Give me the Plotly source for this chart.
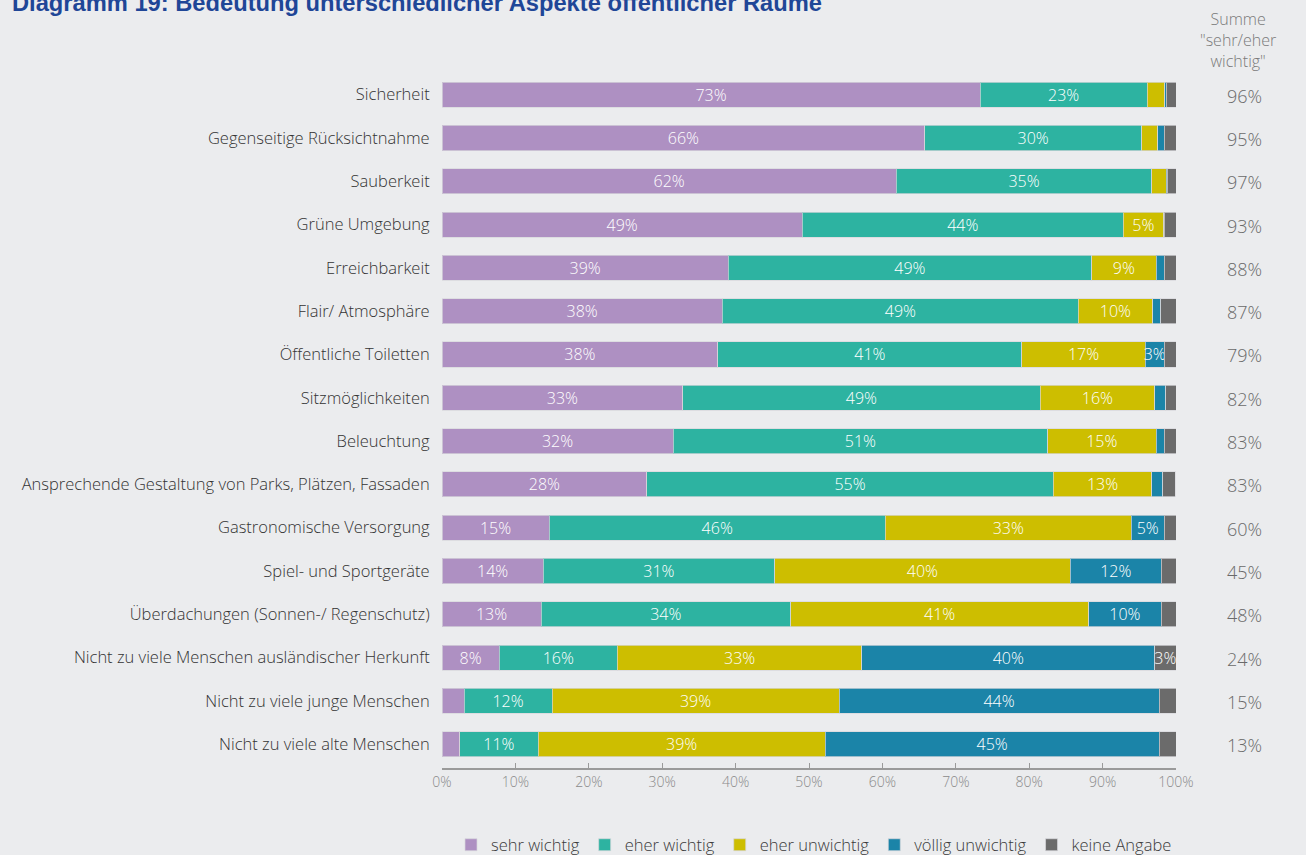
import plotly.graph_objects as go

categories = [
    "Sicherheit",
    "Gegenseitige Rücksichtnahme",
    "Sauberkeit",
    "Grüne Umgebung",
    "Erreichbarkeit",
    "Flair/ Atmosphäre",
    "Öffentliche Toiletten",
    "Sitzmöglichkeiten",
    "Beleuchtung",
    "Ansprechende Gestaltung von Parks, Plätzen, Fassaden",
    "Gastronomische Versorgung",
    "Spiel- und Sportgeräte",
    "Überdachungen (Sonnen-/ Regenschutz)",
    "Nicht zu viele Menschen ausländischer Herkunft",
    "Nicht zu viele junge Menschen",
    "Nicht zu viele alte Menschen",
]

sehr_wichtig = [73.3, 65.8, 61.9, 49.1, 39.0, 38.2, 37.6, 32.8, 31.5, 27.9, 14.6, 13.8, 13.5, 7.8, 3.0, 2.4]
eher_wichtig = [22.8, 29.5, 34.8, 43.7, 49.5, 48.5, 41.4, 48.7, 51.0, 55.4, 45.8, 31.5, 34.0, 16.1, 12.0, 10.7]
eher_unwichtig = [2.4, 2.2, 2.0, 5.5, 8.8, 10.1, 16.8, 15.6, 14.8, 13.4, 33.5, 40.3, 40.6, 33.3, 39.1, 39.1]
voellig_unwichtig = [0.2, 0.9, 0.1, 0.1, 1.1, 1.1, 2.6, 1.5, 1.1, 1.5, 4.5, 12.4, 9.9, 39.9, 43.6, 45.5]
keine_angabe = [1.3, 1.6, 1.2, 1.6, 1.6, 2.1, 1.6, 1.4, 1.6, 1.7, 1.6, 2.0, 2.0, 2.9, 2.3, 2.3]

# labels shown inside the segments ("" = not shown)
lbl_sehr = ["73%", "66%", "62%", "49%", "39%", "38%", "38%", "33%", "32%", "28%", "15%", "14%", "13%", "8%", "", ""]
lbl_eher = ["23%", "30%", "35%", "44%", "49%", "49%", "41%", "49%", "51%", "55%", "46%", "31%", "34%", "16%", "12%", "11%"]
lbl_eher_un = ["", "", "", "5%", "9%", "10%", "17%", "16%", "15%", "13%", "33%", "40%", "41%", "33%", "39%", "39%"]
lbl_voellig = ["", "", "", "", "", "", "3%", "", "", "", "5%", "12%", "10%", "40%", "44%", "45%"]
lbl_keine = ["", "", "", "", "", "", "", "", "", "", "", "", "", "3%", "", ""]

summe = ["96%", "95%", "97%", "93%", "88%", "87%", "79%", "82%", "83%", "83%", "60%", "45%", "48%", "24%", "15%", "13%"]

series = [
    ("sehr wichtig", sehr_wichtig, lbl_sehr, "#AE90C2"),
    ("eher wichtig", eher_wichtig, lbl_eher, "#2DB3A1"),
    ("eher unwichtig", eher_unwichtig, lbl_eher_un, "#CDBE00"),
    ("völlig unwichtig", voellig_unwichtig, lbl_voellig, "#1B84A8"),
    ("keine Angabe", keine_angabe, lbl_keine, "#6B6B6B"),
]

FONT = "Open Sans"
BG = "#EBECEE"
PLOT_T, PLOT_B = 73, 768
PLOT_L, PLOT_R = 442, 1176
PH = PLOT_B - PLOT_T
PW = PLOT_R - PLOT_L


def px_x(px):
    return (px - PLOT_L) / PW


def px_y(py):
    return (PLOT_B - py) / PH


fig = go.Figure()
for name, vals, lbls, col in series:
    fig.add_trace(go.Bar(
        name=name,
        y=categories,
        x=vals,
        orientation="h",
        marker=dict(color=col, line=dict(color="rgba(215,215,220,0.7)", width=1)),
        text=lbls,
        textposition="inside",
        insidetextanchor="middle",
        textangle=0,
        textfont=dict(family=FONT, size=16, color="white", weight=300),
        constraintext="none",
        cliponaxis=False,
        hoverinfo="x+name",
    ))

for cat, s in zip(categories, summe):
    fig.add_annotation(
        x=px_x(1244), xref="paper", y=cat, yref="y", yshift=-1,
        text=s, showarrow=False,
        font=dict(family=FONT, size=18, color="#6a6a6a", weight=300),
        xanchor="center", yanchor="middle",
    )
fig.add_annotation(
    x=px_x(1238), xref="paper", y=px_y(40), yref="paper", yanchor="middle",
    text="Summe<br>\"sehr/eher<br>wichtig\"", showarrow=False,
    font=dict(family=FONT, size=16, color="#7a7a7a", weight=300),
    xanchor="center", align="center",
)
fig.add_annotation(
    x=px_x(10), xref="paper", y=px_y(3), yref="paper",
    xanchor="left", yanchor="middle",
    text="<b>Diagramm 19: Bedeutung unterschiedlicher Aspekte öffentlicher Räume</b>",
    showarrow=False,
    font=dict(family="Liberation Sans", size=23.7, color="#1F4697"),
)

fig.update_layout(
    width=1306, height=855,
    barmode="stack",
    bargap=0.42,
    paper_bgcolor=BG,
    plot_bgcolor=BG,
    margin=dict(l=PLOT_L, r=1306 - PLOT_R, t=PLOT_T, b=855 - PLOT_B, autoexpand=False),
    showlegend=True,
    legend=dict(
        orientation="h", x=px_x(814), xanchor="center", y=px_y(845), yanchor="middle",
        font=dict(family=FONT, size=16.5, color="#3a3a3a", weight=300),
        itemwidth=30, traceorder="normal",
        bgcolor="rgba(0,0,0,0)",
    ),
    font=dict(family=FONT),
)

fig.update_xaxes(
    range=[0, 100],
    tickvals=[0, 10, 20, 30, 40, 50, 60, 70, 80, 90, 100],
    ticktext=["0%", "10%", "20%", "30%", "40%", "50%", "60%", "70%", "80%", "90%", "100%"],
    showgrid=False, zeroline=False,
    showline=True, linecolor="#9a9a9a", linewidth=2,
    ticks="inside", ticklen=5, tickcolor="#9a9a9a", tickwidth=1,
    tickfont=dict(family=FONT, size=14, color="#8a8a8a", weight=300),
    fixedrange=True,
)
fig.update_yaxes(
    categoryorder="array", categoryarray=categories,
    range=[15.55, -0.5],
    showgrid=False, zeroline=False, showline=False,
    ticks="outside", ticklen=8, tickcolor="rgba(0,0,0,0)",
    tickfont=dict(family=FONT, size=16.5, color="#333333", weight=300),
    fixedrange=True,
)

fig.write_html("out.html")
